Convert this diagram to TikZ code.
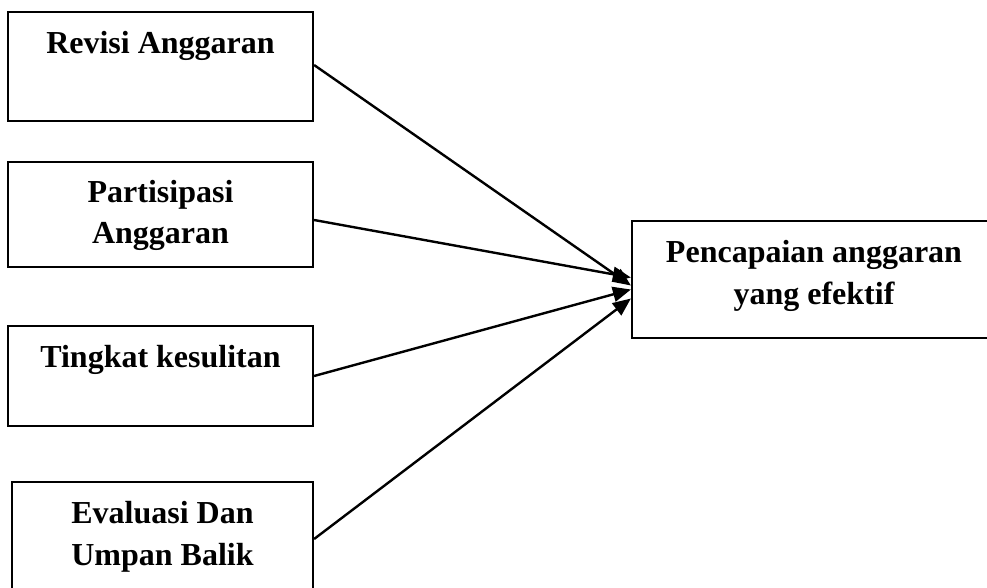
\documentclass[tikz,border=0pt]{standalone}
\usepackage{fontspec}
\setmainfont{Liberation Serif}
\usetikzlibrary{arrows.meta}
\begin{document}
\begin{tikzpicture}[x=1pt,y=-1pt,
  box/.style={draw=black,line width=2.2pt,rectangle,inner sep=0pt},
  lbl/.style={anchor=base,inner sep=0pt,font=\fontsize{32}{38}\selectfont\bfseries},
  conn/.style={line width=2.4pt,-{Triangle[length=18pt,width=15pt]}}]
\useasboundingbox (0,0) rectangle (987,587);
% boxes
\node[box,minimum width=305pt,minimum height=109pt] (b1) at (160.5,66.5) {};
\node[box,minimum width=305pt,minimum height=105pt] (b2) at (160.5,214.5) {};
\node[box,minimum width=305pt,minimum height=100pt] (b3) at (160.5,376) {};
\node[box,minimum width=301pt,minimum height=114pt] (b4) at (162.5,539) {};
\node[box,minimum width=364pt,minimum height=117pt] (r) at (814,279.5) {};
% texts
\node[lbl] (t1) at (160.5,53) {Revisi Anggaran};
\node[lbl] (t2a) at (160.5,202) {Partisipasi};
\node[lbl] (t2b) at (160.5,243) {Anggaran};
\node[lbl] (t3) at (160.5,367) {Tingkat kesulitan};
\node[lbl] (t4a) at (162.5,523) {Evaluasi Dan};
\node[lbl] (t4b) at (162.5,565) {Umpan Balik};
\node[lbl] (tra) at (814,262) {Pencapaian anggaran};
\node[lbl] (trb) at (814,304) {yang efektif};
% connectors
\draw[conn] ([yshift=1.5pt]b1.east) -- ([yshift=-6pt]r.west);
\draw[conn] ([yshift=-5.5pt]b2.east) -- ([yshift=2pt]r.west);
\draw[conn] (b3.east) -- ([yshift=-10pt]r.west);
\draw[conn] (b4.east) -- ([yshift=-19pt]r.west);
\end{tikzpicture}
\end{document}
